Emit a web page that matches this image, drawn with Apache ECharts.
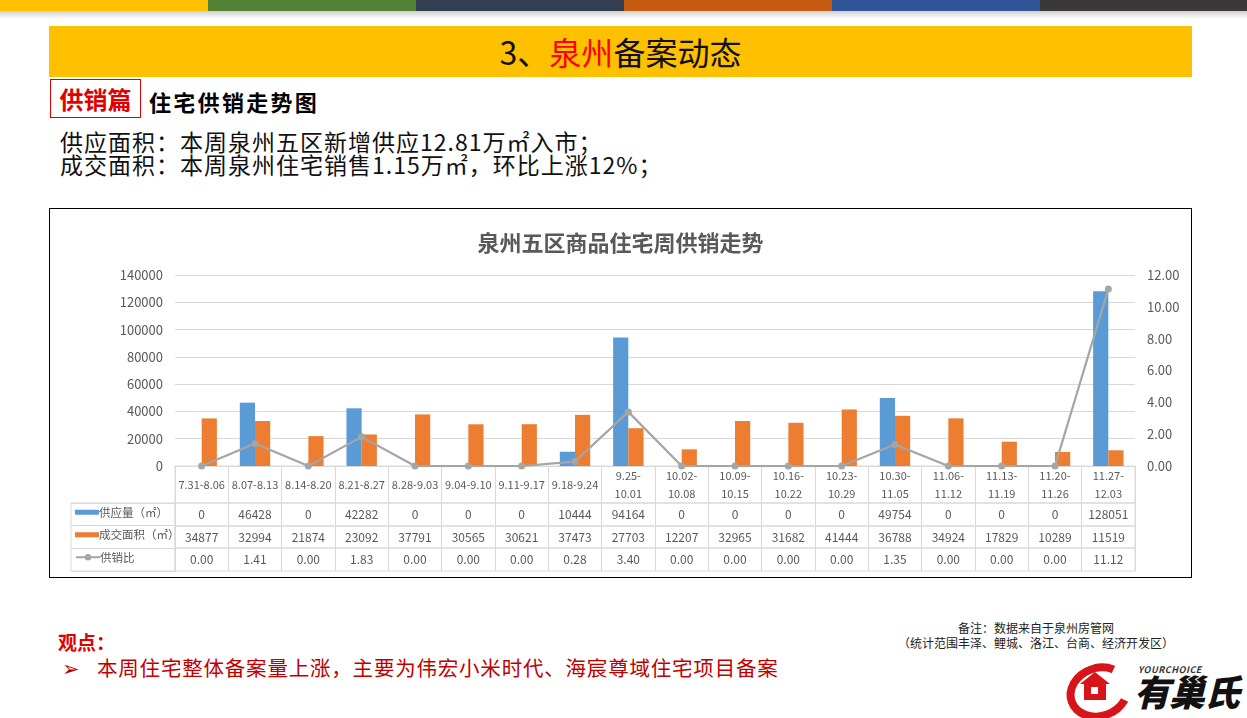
<!DOCTYPE html>
<html>
<head>
<meta charset="utf-8">
<script src="https://cdn.jsdelivr.net/npm/echarts@6/dist/echarts.min.js"></script>
<style>
  html, body { margin:0; padding:0; background:#fff; }
  body { width:1247px; height:718px; position:relative; overflow:hidden; font-family:"Noto Sans CJK SC","Noto Sans",sans-serif; }
  .abs { position:absolute; }
  .stripe { top:0; height:11px; }
  .shade { top:11px; height:8px; width:1247px; left:0; background:linear-gradient(to bottom, rgba(120,120,120,0.35), rgba(255,255,255,0)); }
  #banner { left:49px; top:26px; width:1143px; height:51px; background:#FFC000; text-align:center; line-height:51px; font-size:32px; color:#111; }
  #tag { left:50px; top:79px; width:89px; height:37px; border:1px solid #E00000; color:#E00000; font-weight:bold; font-size:24px; line-height:37px; text-align:center; }
  #sub { left:149px; top:86px; font-size:22px; font-weight:bold; color:#000; line-height:30px; letter-spacing:2.3px; }
  #body { left:60px; top:130px; font-size:23px; line-height:23px; color:#111; letter-spacing:1px; }
  #chart { left:49px; top:208px; width:1143px; height:370px; border:1px solid #000; box-sizing:border-box; }
  #view { left:58px; top:628px; font-size:19px; font-weight:bold; color:#E00000; }
  #point { left:62px; top:652px; font-size:20.5px; color:#C00000; letter-spacing:0.8px; }
  #note { left:880px; top:620px; width:312px; text-align:center; font-size:12px; line-height:15px; color:#222; }
  #logo { left:1062px; top:662px; width:185px; height:56px; }
</style>
</head>
<body>
<div class="abs stripe" style="left:0;width:208px;background:#FFC000"></div>
<div class="abs stripe" style="left:208px;width:208px;background:#548235"></div>
<div class="abs stripe" style="left:416px;width:208px;background:#333F50"></div>
<div class="abs stripe" style="left:624px;width:208px;background:#C55A11"></div>
<div class="abs stripe" style="left:832px;width:208px;background:#2F5597"></div>
<div class="abs stripe" style="left:1040px;width:207px;background:#3A3838"></div>
<div class="abs shade"></div>

<div id="banner" class="abs">3、<span style="color:#FF0000">泉州</span>备案动态</div>
<div id="tag" class="abs">供销篇</div>
<div id="sub" class="abs">住宅供销走势图</div>
<div id="body" class="abs">供应面积：本周泉州五区新增供应12.81万㎡入市；<br>成交面积：本周泉州住宅销售1.15万㎡，环比上涨12%；</div>

<div id="chart" class="abs"></div>

<div id="view" class="abs">观点：</div>
<div id="point" class="abs">➢&nbsp;&nbsp;&nbsp;本周住宅整体备案量上涨，主要为伟宏小米时代、海宸尊域住宅项目备案</div>
<div id="note" class="abs">备注：数据来自于泉州房管网<br>（统计范围丰泽、鲤城、洛江、台商、经济开发区）</div>

<div id="logo" class="abs">
  <div class="abs" style="left:4px;top:2px;width:50px;height:40px;border:8px solid #D7141A;border-radius:50%;border-right-color:transparent;transform:rotate(-20deg);"></div>
  <div class="abs" style="left:22px;top:20px;width:22px;height:18px;background:#D7141A;"></div>
  <div class="abs" style="left:18px;top:10px;width:0;height:0;border-left:15px solid transparent;border-right:15px solid transparent;border-bottom:12px solid #D7141A;"></div>
  <div class="abs" style="left:29px;top:25px;width:7px;height:7px;background:#fff;"></div>
  <div class="abs" style="left:76px;top:1px;font-size:9px;font-style:italic;font-weight:bold;color:#333;letter-spacing:0.5px;">YOURCHOICE</div>
  <div class="abs" style="left:72px;top:6px;font-size:36px;font-weight:900;font-style:italic;color:#111;line-height:44px;letter-spacing:-1px;">有巢氏</div>
</div>

<script>
// ---- data ----
var categories = ['7.31-8.06','8.07-8.13','8.14-8.20','8.21-8.27','8.28-9.03','9.04-9.10','9.11-9.17','9.18-9.24','9.25-10.01','10.02-10.08','10.09-10.15','10.16-10.22','10.23-10.29','10.30-11.05','11.06-11.12','11.13-11.19','11.20-11.26','11.27-12.03'];
var supply = [0,46428,0,42282,0,0,0,10444,94164,0,0,0,0,49754,0,0,0,128051];
var deal = [34877,32994,21874,23092,37791,30565,30621,37473,27703,12207,32965,31682,41444,36788,34924,17829,10289,11519];
var ratio = [0.00,1.41,0.00,1.83,0.00,0.00,0.00,0.28,3.40,0.00,0.00,0.00,0.00,1.35,0.00,0.00,0.00,11.12];
var seriesNames = ['供应量（㎡）','成交面积（㎡）','供销比'];
var chartTitle = '泉州五区商品住宅周供销走势';

var C_BLUE = '#5B9BD5', C_ORANGE = '#ED7D31', C_GRAY = '#A5A5A5';
var TXT = '#595959', LINE = '#D9D9D9';
var FONT = '"Noto Sans CJK SC","Noto Sans",sans-serif';

var chart = echarts.init(document.getElementById('chart'), null, {renderer:'canvas'});

var L = 125, R = 56;
var rows = [
  {top:257, height:37},
  {top:294, height:23, data: supply.map(String)},
  {top:317, height:22, data: deal.map(String)},
  {top:339, height:23, data: ratio.map(function(v){return v.toFixed(2);})}
];

var grids = [{left:L, right:R, top:66, bottom:111}];
var xAxes = [{
  type:'category', gridIndex:0, data:categories,
  axisLine:{show:true, lineStyle:{color:LINE}},
  axisTick:{show:false},
  axisLabel:{interval:0, margin:18.5, verticalAlign:'middle', lineHeight:18, fontSize:11, color:TXT, fontFamily:FONT,
    formatter:function(v){ return v.length > 9 ? v.replace('-', '-\n') : v; }}
}];
var yAxes = [
  {type:'value', gridIndex:0, min:0, max:140000, interval:20000,
   axisLine:{show:false}, axisTick:{show:false},
   splitLine:{lineStyle:{color:LINE}},
   axisLabel:{fontSize:13, color:TXT, margin:12, fontFamily:FONT, formatter:function(v){return String(v);}}},
  {type:'value', gridIndex:0, min:0, max:12, interval:2, position:'right',
   axisLine:{show:false}, axisTick:{show:false}, splitLine:{show:false},
   axisLabel:{fontSize:13, color:TXT, margin:12, fontFamily:FONT, formatter:function(v){return v.toFixed(2);}}}
];

rows.forEach(function(r, i){
  var gi = grids.length;
  grids.push({left:L, right:R, top:r.top, height:r.height, show:true, borderColor:LINE, borderWidth:1, backgroundColor:'transparent'});
  xAxes.push({
    type:'category', gridIndex:gi, data: r.data || categories,
    axisLine:{show:false}, axisTick:{show:false},
    splitLine:{show:true, interval:0, lineStyle:{color:LINE}},
    axisLabel:{show: !!r.data, inside:true, interval:0, margin:r.height/2, verticalAlign:'middle',
      fontSize:12, color:TXT, fontFamily:FONT}
  });
  yAxes.push({type:'value', gridIndex:gi, show:false});
});

// legend column of the data table
var lgi = grids.length;
grids.push({left:21, width:104, top:294, height:68, show:true, borderColor:LINE, borderWidth:1, backgroundColor:'transparent'});
xAxes.push({type:'value', gridIndex:lgi, show:false});
yAxes.push({type:'category', gridIndex:lgi, data:seriesNames, inverse:true,
  axisLine:{show:false}, axisTick:{show:false}, axisLabel:{show:false},
  splitLine:{show:true, interval:0, lineStyle:{color:LINE}}});

var rowCenters = [305.5, 328, 350.5];
var legends = seriesNames.map(function(n, i){
  return {
    data:[ i < 2 ? {name:n, icon:'rect'} : {name:n} ],
    left:25, top: rowCenters[i] - 8, padding:0,
    itemWidth:24, itemHeight: i < 2 ? 5 : 8, itemGap:0,
    textStyle:{fontSize:11.5, color:TXT, fontFamily:FONT, padding:[0,0,0,-5]},
    selectedMode:false
  };
});

chart.setOption({
  animation:false,
  textStyle:{fontFamily:FONT},
  title:{text:chartTitle, left:'center', top:18,
    textStyle:{fontSize:22, fontWeight:'bold', color:TXT, fontFamily:FONT}},
  legend: legends,
  grid: grids,
  xAxis: xAxes,
  yAxis: yAxes,
  series:[
    {name:seriesNames[0], type:'bar', xAxisIndex:0, yAxisIndex:0, data:supply,
     itemStyle:{color:C_BLUE}, barGap:'0%', barCategoryGap:'43%'},
    {name:seriesNames[1], type:'bar', xAxisIndex:0, yAxisIndex:0, data:deal,
     itemStyle:{color:C_ORANGE}, barGap:'0%', barCategoryGap:'43%'},
    {name:seriesNames[2], type:'line', xAxisIndex:0, yAxisIndex:1, data:ratio,
     symbol:'circle', symbolSize:7, showSymbol:true,
     lineStyle:{color:C_GRAY, width:2.25}, itemStyle:{color:C_GRAY}}
  ]
});
</script>
</body>
</html>
